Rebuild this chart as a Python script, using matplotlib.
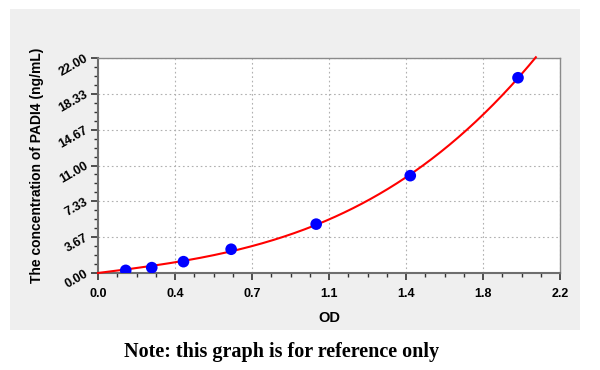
"""Standard curve for PADI4 ELISA: OD vs concentration, with fitted curve."""

import matplotlib
matplotlib.use("Agg")
import matplotlib.pyplot as plt
import numpy as np
from matplotlib.patches import Rectangle
from matplotlib.ticker import AutoMinorLocator

# ---------------------------------------------------------------------------
# Data
# ---------------------------------------------------------------------------
od = [0.132, 0.256, 0.407, 0.634, 1.039, 1.487, 2.000]
conc = [0.27, 0.55, 1.16, 2.43, 5.00, 9.96, 19.98]

x_ticks = [0.0, 2.2 / 6, 2.2 * 2 / 6, 1.1, 2.2 * 4 / 6, 2.2 * 5 / 6, 2.2]
x_tick_labels = ["0.0", "0.4", "0.7", "1.1", "1.4", "1.8", "2.2"]
y_ticks = [0.0, 22 / 6, 22 * 2 / 6, 11.0, 22 * 4 / 6, 22 * 5 / 6, 22.0]
y_tick_labels = ["0.00", "3.67", "7.33", "11.00", "14.67", "18.33", "22.00"]

FIT_X_END = 2.085  # curve runs a bit past the top of the plot

BG_GRAY = "#efefef"
SPINE = "#6e6e6e"


def fit_through_origin(x, y):
    """Least-squares cubic with no constant term (curve starts at 0)."""
    x = np.asarray(x, dtype=float)
    A = np.column_stack([x, x ** 2, x ** 3])
    coef, *_ = np.linalg.lstsq(A, np.asarray(y, dtype=float), rcond=None)
    return lambda t: coef[0] * t + coef[1] * t ** 2 + coef[2] * t ** 3


def main() -> None:
    fig = plt.figure(figsize=(6.0, 3.7), dpi=100, facecolor="white")
    W, H = 600, 370

    # grey panel behind the chart
    fig.add_artist(Rectangle((10 / W, 1 - 330 / H), 570 / W, 321 / H,
                             transform=fig.transFigure, facecolor=BG_GRAY,
                             edgecolor="none", zorder=-5))

    ax = fig.add_axes([98 / W, 1 - 273 / H, 462 / W, 215 / H])
    ax.set_zorder(2)
    ax.set_facecolor("white")

    curve = fit_through_origin(od, conc)
    xs = np.linspace(0.0, FIT_X_END, 300)
    ax.plot(xs, curve(xs), color="#ff0000", linewidth=1.5,
            clip_on=False, zorder=3)
    ax.scatter(od, conc, s=70, color="#0000ff", edgecolors="none", zorder=4)

    ax.set_xlim(0, 2.2)
    ax.set_ylim(0, 22)
    ax.set_xticks(x_ticks)
    ax.set_xticklabels(x_tick_labels)
    ax.set_yticks(y_ticks)
    ax.set_yticklabels(y_tick_labels, rotation=30, ha="right", va="center",
                       rotation_mode="anchor")
    ax.xaxis.set_minor_locator(AutoMinorLocator(4))
    ax.yaxis.set_minor_locator(AutoMinorLocator(4))

    for lab in ax.get_xticklabels() + ax.get_yticklabels():
        lab.set_fontweight("bold")
        lab.set_fontsize(9)
        lab.set_family("Liberation Sans")

    ax.tick_params(which="major", length=5, width=1.2, color="#333333", pad=3)
    ax.tick_params(which="minor", length=3, width=1.0, color="#333333")
    ax.tick_params(axis="x", pad=6)

    ax.grid(True, which="major", color="#b0b0b0", linestyle=(0, (1.5, 2.5)),
            linewidth=0.8)
    for side in ("top", "right"):
        ax.spines[side].set_color("#8a8a8a")
        ax.spines[side].set_linewidth(1.0)
    for side in ("left", "bottom"):
        ax.spines[side].set_color(SPINE)
        ax.spines[side].set_linewidth(1.5)

    ax.set_xlabel("OD", fontsize=10.5, fontweight="bold",
                  family="Liberation Sans", labelpad=8)
    ax.set_ylabel("The concentration of PADI4 (ng/mL)", fontsize=10,
                  fontweight="bold", family="Liberation Sans", labelpad=9)

    fig.text(282 / W, 1 - 352 / H, "Note: this graph is for reference only",
             ha="center", va="center", fontsize=14.5, fontweight="bold",
             family="Liberation Serif")

    fig.savefig("out.png", dpi=100, facecolor="white")


if __name__ == "__main__":
    main()
